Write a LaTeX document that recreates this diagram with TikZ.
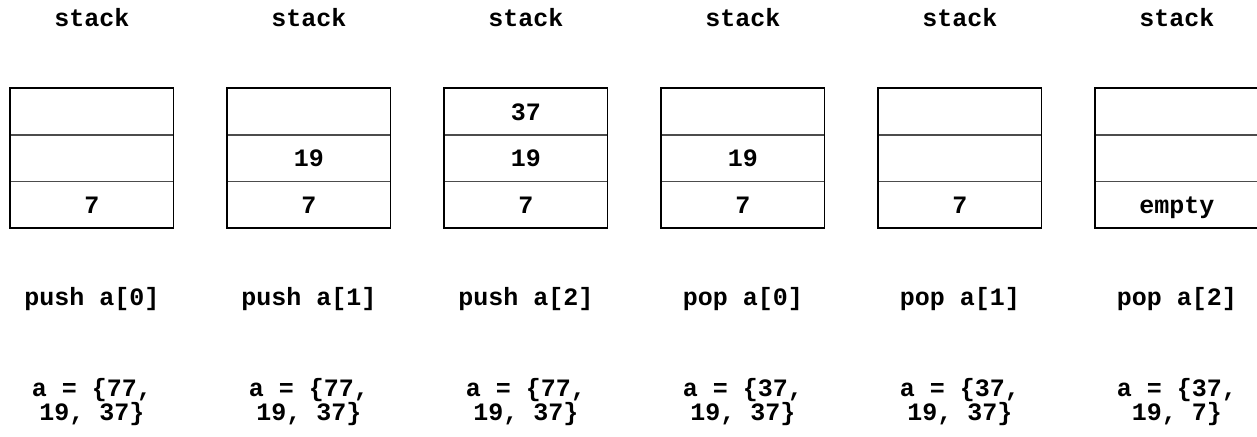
\documentclass[tikz,border=0pt]{standalone}
\usepackage{fontspec}
\newfontfamily\codefont{Liberation Mono}
\begin{document}
\begin{tikzpicture}[x=1pt,y=-1pt,
  txt/.style={font=\codefont\bfseries\fontsize{25}{24}\selectfont, inner sep=0pt},
  lbl/.style={txt, anchor=base},
  upper/.style={lbl, text depth=0pt},
  lower/.style={lbl, text height=12pt},
  cell/.style={txt, minimum width=163pt, minimum height=46.5pt, text height=17pt, text depth=0pt},
  frame/.style={draw=black, line width=1.3pt},
  divider/.style={draw=black!70, line width=1.3pt}]
\useasboundingbox (0,0) rectangle (1257,436);
\fill[white] (0,0) rectangle (1257,436);
\foreach \i/\ta/\tb/\tc/\op/\la/\lb in {
  0/{}/{}/7/{push a[0]}/{a = \{77,}/{19, 37\}},
  1/{}/19/7/{push a[1]}/{a = \{77,}/{19, 37\}},
  2/37/19/7/{push a[2]}/{a = \{77,}/{19, 37\}},
  3/{}/19/7/{pop a[0]}/{a = \{37,}/{19, 37\}},
  4/{}/{}/7/{pop a[1]}/{a = \{37,}/{19, 37\}},
  5/{}/{}/empty/{pop a[2]}/{a = \{37,}/{19, 7\}}}{
  \pgfmathsetmacro{\cx}{91.8+217*\i}
  \node[lbl] (s\i) at (\cx,26.7) {stack};
  \node[cell] (a\i) at (\cx,111.5) {\ta};
  \node[cell] (b\i) at (\cx,158) {\tb};
  \node[cell] (c\i) at (\cx,204.5) {\tc};
  \draw[divider] (a\i.south west) -- (a\i.south east);
  \draw[divider] (b\i.south west) -- (b\i.south east);
  \draw[frame] (a\i.north west) rectangle (c\i.south east);
  \node[lbl] (o\i) at (\cx,305) {\op};
  \node[upper] (p\i) at (\cx,396.7) {\la};
  \node[lower] (q\i) at (\cx,420.7) {\lb};
}
\end{tikzpicture}
\end{document}
